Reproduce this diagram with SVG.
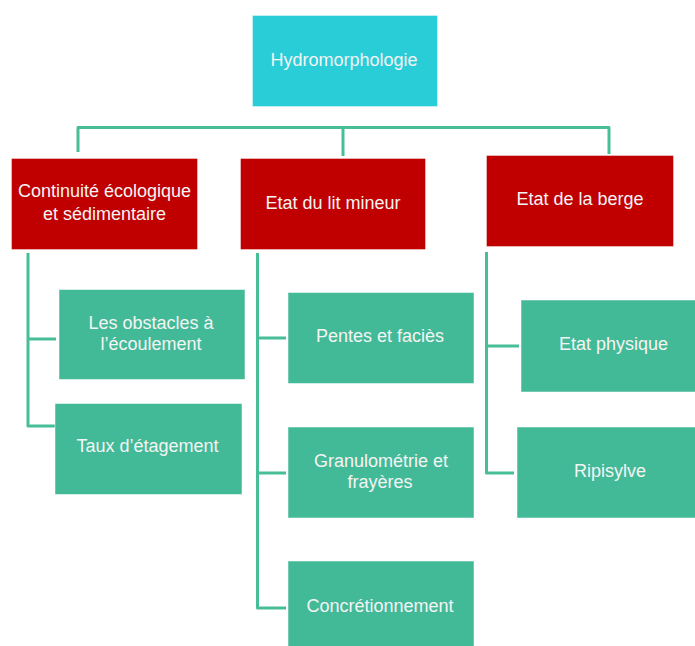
<svg xmlns="http://www.w3.org/2000/svg" width="695" height="646" viewBox="0 0 695 646">
<style>
.top{fill:#29CDD8;stroke:#ffffff;stroke-opacity:0.4;stroke-width:1}
.red{fill:#C00000;stroke:#ffffff;stroke-opacity:0.4;stroke-width:1}
.grn{fill:#43BA97;stroke:#ffffff;stroke-opacity:0.5;stroke-width:1}
.lbl{font-family:"Liberation Sans",Arial,sans-serif;font-size:18px;fill:#F4F4F4;text-anchor:middle}
.con{fill:none;stroke:#47BE98;stroke-width:3;stroke-linejoin:round}
</style>
<rect width="695" height="646" fill="#ffffff"/>
<g id="connectors">
<path class="con" d="M78,152 V127.5 H609 V154 M343,127.5 V156"/>
<path class="con" d="M28,253 V426 H55 M28,339 H56"/>
<path class="con" d="M257.5,253 V608 H286 M257.5,338 H286 M257.5,473 H286"/>
<path class="con" d="M486.5,252 V473 H514 M486.5,346 H519"/>
</g>
<g id="hydromorphologie">
<rect class="top" x="252.5" y="15.5" width="185" height="91"/>
<text class="lbl" x="344" y="66">Hydromorphologie</text>
</g>
<g id="continuite">
<rect class="red" x="11.5" y="158.5" width="186" height="91"/>
<text class="lbl" x="104.5" y="197">Continuité écologique</text>
<text class="lbl" x="104.5" y="220">et sédimentaire</text>
</g>
<g id="lit-mineur">
<rect class="red" x="240.5" y="158.5" width="185" height="91"/>
<text class="lbl" x="333" y="209">Etat du lit mineur</text>
</g>
<g id="berge">
<rect class="red" x="486.5" y="155.5" width="187" height="91"/>
<text class="lbl" x="580" y="205">Etat de la berge</text>
</g>
<g id="obstacles">
<rect class="grn" x="59" y="289.5" width="186" height="90"/>
<text class="lbl" x="151" y="329">Les obstacles à</text>
<text class="lbl" x="151" y="350">l’écoulement</text>
</g>
<g id="taux">
<rect class="grn" x="55" y="403.5" width="187" height="91"/>
<text class="lbl" x="147.5" y="452">Taux d’étagement</text>
</g>
<g id="pentes">
<rect class="grn" x="288" y="292.5" width="186" height="91"/>
<text class="lbl" x="380" y="341.5">Pentes et faciès</text>
</g>
<g id="granulometrie">
<rect class="grn" x="288" y="427" width="186" height="91"/>
<text class="lbl" x="381" y="467">Granulométrie et</text>
<text class="lbl" x="380" y="488">frayères</text>
</g>
<g id="concretionnement">
<rect class="grn" x="288" y="561" width="186" height="92"/>
<text class="lbl" x="380" y="612">Concrétionnement</text>
</g>
<g id="etat-physique">
<rect class="grn" x="521" y="300" width="180" height="92"/>
<text class="lbl" x="613.5" y="349.5">Etat physique</text>
</g>
<g id="ripisylve">
<rect class="grn" x="517" y="427" width="184" height="91"/>
<text class="lbl" x="610" y="477">Ripisylve</text>
</g>
</svg>
